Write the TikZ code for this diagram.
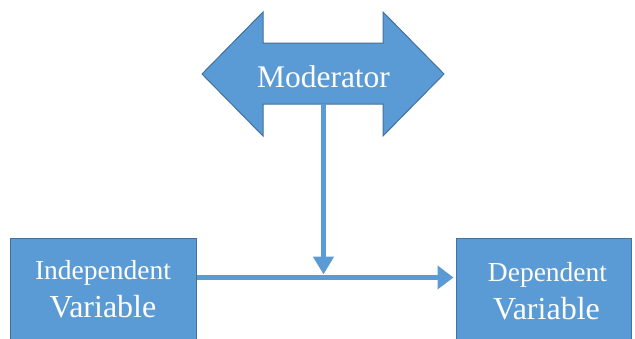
\documentclass[tikz,border=0pt]{standalone}
\usepackage{fontspec}
\setmainfont{Liberation Serif}
\newfontfamily\tnr{Liberation Serif}
\usetikzlibrary{arrows.meta}
\definecolor{fillblue}{HTML}{5B9BD5}
\definecolor{edgeblue}{HTML}{41719C}
\begin{document}
\begin{tikzpicture}[x=1pt,y=-1pt,
  varbox/.style={draw=edgeblue, fill=fillblue, line width=1pt, text=white,
    align=center, anchor=north, inner sep=0pt,
    font=\tnr\fontsize{32}{37.5}\selectfont},
  modshape/.style={draw=edgeblue, fill=fillblue, line width=1pt, line join=miter},
  modtext/.style={anchor=base, text=white, inner sep=0pt, font=\tnr\fontsize{31.5}{36}\selectfont},
  conn/.style={draw=fillblue, line width=5.5pt}]
\useasboundingbox (0,0) rectangle (635,338);
\clip (0,0) rectangle (635,338);
% boxes
\node[varbox, minimum width=186pt, minimum height=121.2pt] (iv) at (103,238)
  {{\fontsize{27.5}{37.5}\selectfont Independent}\\Variable\rule[-20pt]{0pt}{0pt}};
\node[varbox, minimum width=175pt, minimum height=124.7pt] (dv) at (543.5,238)
  {{\fontsize{27.5}{37.5}\selectfont \hspace*{8pt}Dependent}\\\hspace*{6pt}Variable\rule[-20pt]{0pt}{0pt}};
% moderator double arrow
\draw[modshape] (202,74) -- (263,12) -- (263,43) -- (383,43) -- (383,12) -- (444,74)
  -- (383,136) -- (383,104) -- (263,104) -- (263,136) -- cycle;
\node[modtext] (mod) at (323.5,87) {Moderator};
% connectors
\coordinate (modb) at (323.5,104);
\coordinate (junc) at (323.5,274.5);
\coordinate (hl) at (0,277.5);
\draw[conn, -{Triangle[length=16pt,width=23pt]}, shorten >=2pt] (iv.east |- hl) -- (dv.west |- hl);
\draw[conn, -{Triangle[length=18pt,width=20pt]}] (modb) -- (junc);
\end{tikzpicture}
\end{document}
